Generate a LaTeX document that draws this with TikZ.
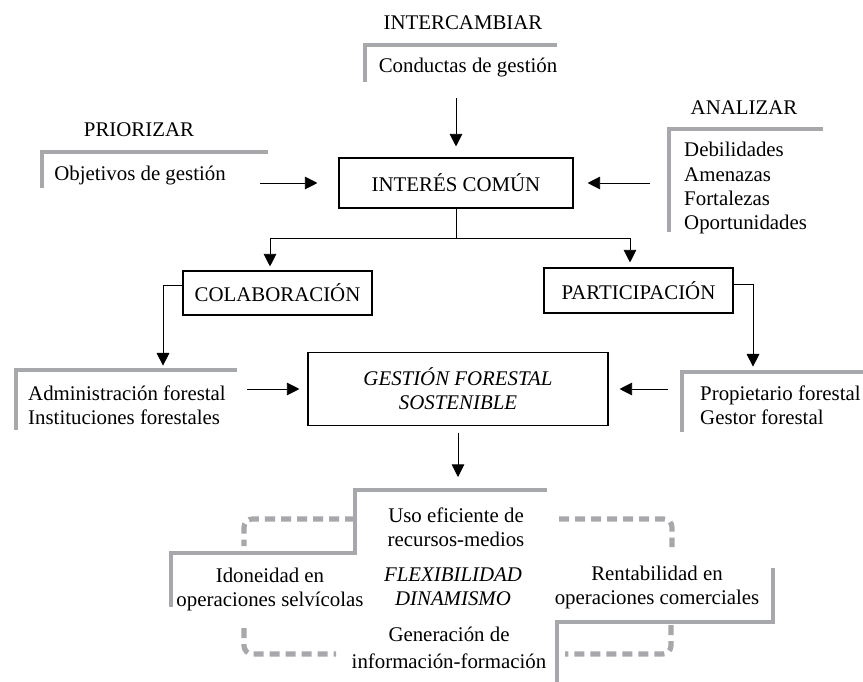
\documentclass[tikz,border=0pt]{standalone}
\usepackage{fontspec}
\setmainfont{Liberation Serif}
\usetikzlibrary{arrows.meta}
\definecolor{gris}{RGB}{167,168,172}
\newcommand\letra{\fontsize{17.8}{20.5}\selectfont}

\begin{document}
\begin{tikzpicture}[x=0.03cm,y=-0.03cm,
	txt/.style={inner sep=0pt, font=\letra},
	caja/.style={draw, line width=0.9pt, inner sep=0pt, font=\letra},
	flecha/.style={line width=0.8pt, -{Triangle[length=0.38cm,width=0.38cm]}},
	marco/.style={draw=gris, line width=3.8pt},
	punteado/.style={draw=gris, line width=4.4pt, dash pattern=on 0.3cm off 0.18cm, rounded corners=0.25cm}]
	\useasboundingbox (0,0) rectangle (863,682);
	% gray brackets
	\foreach \xa/\ya/\xb/\yb in {365/82/557/45, 42/188/268/152, 669/232/823/129, 16/430/237/370, 682/432/863/372}{\draw[marco] (\xa,\ya) |- (\xb,\yb);};
	\draw[marco] (547,490) -| (355,553) -| (171,607);
	\draw[marco] (773,568) |- (557,622) -- (557,682);
	\draw[punteado] (355,519) -- (244,519) -- (244,546);
	\draw[punteado] (559,519) -- (672,519) -- (672,547);
	\draw[punteado] (244,628) -- (244,654) -- (336,654);
	\draw[punteado] (671,625) -- (671,654) -- (565,654);
	% top
	\node[txt, anchor=base] (intercambiar) at (463,30) {INTERCAMBIAR};
	\node[txt, anchor=base] (conductas) at (468,73) {Conductas de gestión};
	\node[txt, anchor=base] (priorizar) at (139,137) {PRIORIZAR};
	\node[txt, anchor=base] (objetivos) at (140,181) {Objetivos de gestión};
	\node[txt, anchor=base] (analizar) at (744,115) {ANALIZAR};
	\node[txt, anchor=west, align=left] (dafo) at (684,188) {Debilidades\\Amenazas\\Fortalezas\\Oportunidades};
	\node[caja, minimum width=7.02cm, minimum height=1.5cm] (interes) at (456,183) {INTERÉS COMÚN};
	% middle
	\node[caja, minimum width=5.67cm, minimum height=1.32cm] (colab) at (277.5,293) {COLABORACIÓN};
	\node[caja, minimum width=5.67cm, minimum height=1.35cm] (partic) at (638.5,290.5) {PARTICIPACIÓN};
	\node[txt, anchor=west, align=left] (admin) at (28,405) {Administración forestal\\Instituciones forestales};
	\node[txt, anchor=west, align=left] (prop) at (700,405) {Propietario forestal\\Gestor forestal};
	\node[caja, minimum width=9cm, minimum height=2.19cm, align=center, font=\letra\itshape] (gestion) at (458,389) {GESTIÓN FORESTAL\\SOSTENIBLE};
	% bottom
	\node[txt, align=center] (uso) at (456,527) {Uso eficiente de\\recursos-medios};
	\node[txt, align=center] (idoneidad) at (270,589) {Idoneidad en\\operaciones selvícolas};
	\node[txt, align=center, font=\letra\itshape] (flexi) at (453,587) {FLEXIBILIDAD\\DINAMISMO};
	\node[txt, align=center] (rentab) at (657,587) {Rentabilidad en\\operaciones comerciales};
	\node[txt, align=center] (genera) at (449,648) {Generación de\\[2.5pt]información-formación};
	% arrows
	\coordinate (reparto) at (456,238);
	\coordinate (escalon) at (456,490);
	\draw[flecha, shorten <=0.615cm, shorten >=0.33cm] (conductas.south -| interes.north) -- (interes.north);
	\draw[flecha, shorten <=1.035cm, shorten >=0.63cm] (objetivos.east |- interes.west) -- (interes.west);
	\draw[flecha, shorten <=1.02cm, shorten >=0.42cm] (dafo.west |- interes.east) -- (interes.east);
	\draw[line width=0.8pt] (interes.south) -- (reparto);
	\draw[flecha, shorten >=0.12cm] (reparto) -| ([xshift=-0.225cm]colab.north);
	\draw[flecha, shorten >=0.15cm] (reparto) -| ([xshift=-0.255cm]partic.north);
	\draw[flecha, shorten >=0.59cm] ([yshift=0.24cm]colab.west) -| ([xshift=4.05cm]admin.north west);
	\draw[flecha, shorten >=0.56cm] ([yshift=0.195cm]partic.east) -| ([xshift=1.59cm]prop.north west);
	\draw[flecha, shorten <=0.645cm, shorten >=0.24cm] (admin.east |- gestion.west) -- (gestion.west);
	\draw[flecha, shorten <=0.96cm, shorten >=0.33cm] (prop.west |- gestion.east) -- (gestion.east);
	\draw[flecha, shorten <=0.2cm, shorten >=0.39cm] (gestion.south) -- (gestion.south |- escalon);
\end{tikzpicture}
\end{document}
